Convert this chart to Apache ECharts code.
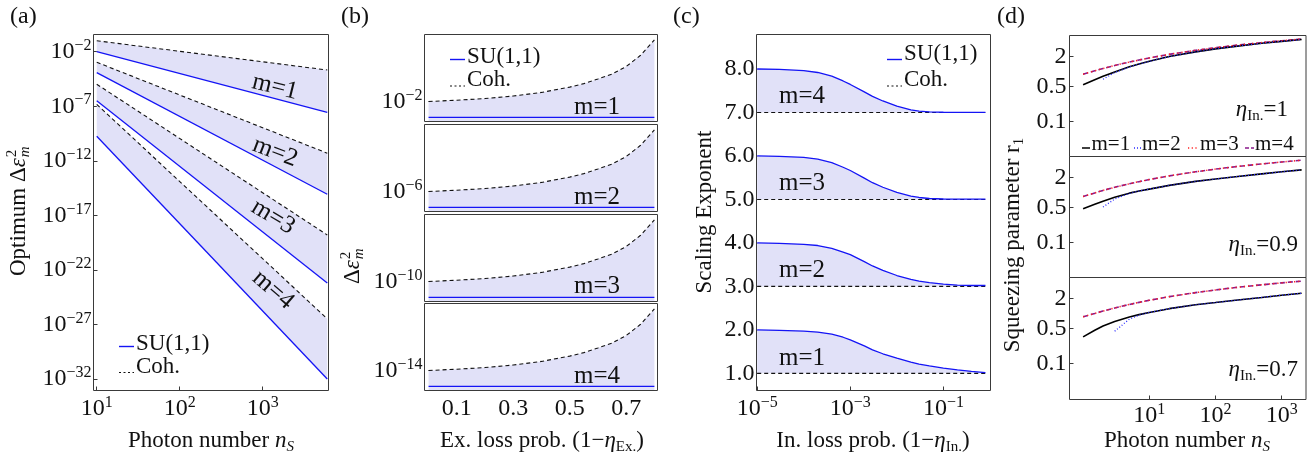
<!DOCTYPE html>
<html><head><meta charset="utf-8">
<script src="https://cdn.jsdelivr.net/npm/echarts@6.0.0/dist/echarts.min.js"></script>
<style>html,body{margin:0;padding:0;background:#fff;}#c{width:1315px;height:460px;}</style>
</head><body><div id="c"></div>
<script>
// ================= DATA =================
// (a) optimum error vs photon number (log-log straight lines, endpoints)
const aPhoton = [10, 6000];
const aCoh1 = [1.0e-1, 2.1e-4];
const aSU1  = [1.0e-2, 2.8e-8];
const aCoh2 = [1.07e-3, 5.0e-12];
const aSU2  = [1.2e-4, 8.7e-16];
const aCoh3 = [1.04e-5, 1.6e-19];
const aSU3  = [3.2e-7, 6.2e-24];
const aCoh4 = [1.5e-7, 3.3e-27];
const aSU4  = [1.8e-10, 1.0e-32];
const aXTicks = [10, 100, 1000];
const aYTicks = [1e-2, 1e-7, 1e-12, 1e-17, 1e-22, 1e-27, 1e-32];

// (b) error vs external loss
const bLoss = [0, 0.1, 0.2, 0.3, 0.4, 0.5, 0.55, 0.6, 0.65, 0.7, 0.75, 0.8];
const bCoh1 = [1.00e-2, 1.035e-2, 1.08e-2, 1.155e-2, 1.27e-2, 1.46e-2, 1.60e-2, 1.81e-2, 2.06e-2, 2.51e-2, 3.35e-2, 5.05e-2];
const bCoh2 = [1.00e-6, 1.035e-6, 1.08e-6, 1.155e-6, 1.27e-6, 1.46e-6, 1.60e-6, 1.81e-6, 2.06e-6, 2.51e-6, 3.35e-6, 5.05e-6];
const bCoh3 = [1.00e-10, 1.035e-10, 1.08e-10, 1.155e-10, 1.27e-10, 1.46e-10, 1.60e-10, 1.81e-10, 2.06e-10, 2.51e-10, 3.35e-10, 5.05e-10];
const bCoh4 = [1.00e-14, 1.035e-14, 1.08e-14, 1.155e-14, 1.27e-14, 1.46e-14, 1.60e-14, 1.81e-14, 2.06e-14, 2.51e-14, 3.35e-14, 5.05e-14];
const bSULoss = [0, 0.8];
const bSU1 = [6.6e-3, 6.6e-3];
const bSU2 = [6.6e-7, 6.6e-7];
const bSU3 = [6.6e-11, 6.6e-11];
const bSU4 = [6.6e-15, 6.6e-15];
const bXTicks = [0.1, 0.3, 0.5, 0.7];
const bYTicks = [1e-2, 1e-6, 1e-10, 1e-14];

// (c) scaling exponent vs internal loss
const cLoss = [1e-5, 3e-5, 1e-4, 2e-4, 4e-4, 7e-4, 1e-3, 2e-3, 3e-3, 5e-3, 1e-2, 2e-2, 3e-2, 5e-2, 0.1, 0.2, 0.4, 0.8];
const cSU1 = [2.0, 1.99, 1.97, 1.95, 1.90, 1.83, 1.77, 1.63, 1.54, 1.45, 1.35, 1.26, 1.21, 1.17, 1.12, 1.08, 1.045, 1.016];
const cSU2 = [4.0, 3.99, 3.968, 3.94, 3.875, 3.79, 3.73, 3.57, 3.47, 3.37, 3.25, 3.16, 3.12, 3.085, 3.05, 3.03, 3.02, 3.02];
const cSU3 = [6.0, 5.99, 5.966, 5.925, 5.845, 5.74, 5.665, 5.49, 5.385, 5.28, 5.16, 5.075, 5.045, 5.022, 5.01, 5.006, 5.005, 5.005];
const cSU4 = [8.0, 7.99, 7.965, 7.92, 7.835, 7.725, 7.645, 7.475, 7.37, 7.265, 7.145, 7.058, 7.03, 7.012, 7.005, 7.004, 7.004, 7.004];
const cCohLoss = [1e-5, 0.8];
const cCoh1 = [1, 1];
const cCoh2 = [3, 3];
const cCoh3 = [5, 5];
const cCoh4 = [7, 7];
const cXTicks = [1e-5, 1e-3, 1e-1];
const cYTicks = [1, 2, 3, 4, 5, 6, 7, 8];

// (d) squeezing parameter vs photon number
const dPhoton = [1, 1.5, 2, 3, 5, 7, 10, 20, 50, 100, 200, 500, 1000, 2000];
const dEta1_m1  = [0.54, 0.68, 0.80, 0.98, 1.24, 1.41, 1.60, 2.00, 2.48, 2.85, 3.20, 3.68, 4.03, 4.38];
const dEta1_m2  = [null, null, 0.70, 0.95, 1.23, 1.41, 1.60, 2.00, 2.48, 2.85, 3.20, 3.68, 4.03, 4.38];
const dEta1_m34 = [0.88, 1.03, 1.15, 1.32, 1.55, 1.70, 1.87, 2.21, 2.66, 3.00, 3.35, 3.80, 4.15, 4.49];
const dEta09_m1  = [0.47, 0.58, 0.67, 0.80, 0.97, 1.07, 1.17, 1.39, 1.67, 1.86, 2.07, 2.36, 2.60, 2.85];
const dEta09_m2  = [null, null, 0.51, 0.74, 0.96, 1.07, 1.17, 1.39, 1.67, 1.86, 2.07, 2.36, 2.60, 2.85];
const dEta09_m34 = [0.83, 0.98, 1.10, 1.27, 1.50, 1.65, 1.82, 2.16, 2.60, 2.95, 3.30, 3.75, 4.10, 4.45];
const dEta07_m1  = [0.34, 0.46, 0.56, 0.69, 0.85, 0.95, 1.05, 1.25, 1.50, 1.66, 1.84, 2.10, 2.33, 2.55];
const dEta07_m2  = [null, null, null, 0.44, 0.77, 0.93, 1.05, 1.25, 1.50, 1.66, 1.84, 2.10, 2.33, 2.55];
const dEta07_m34 = [0.86, 1.00, 1.12, 1.29, 1.52, 1.67, 1.84, 2.18, 2.62, 2.97, 3.32, 3.77, 4.12, 4.47];
const dXTicks = [10, 100, 1000];
const dYTicks = [0.1, 0.5, 2];
const dEtaLabels = ['=1', '=0.9', '=0.7'];

// ================= STYLE / LAYOUT =================
const F = '"Liberation Serif","Times New Roman",serif';
const INK = '#111';
const BLUE = '#1414f5';
const FILL = '#e1e1f8';
const FRAME = '#3a3a3a';
const DASH = {color: INK, width: 1.1, type: [4, 3]};
const SOLID_BLUE = {color: BLUE, width: 1.3};

const A = {left: 93.5, top: 34.5, width: 235, height: 356};
const B_TOPS = [34.5, 124.5, 214.5, 303.5], B_H = 87, B_LEFT = 424.5, B_W = 233;
const C = {left: 756.5, top: 34.5, width: 234, height: 356};
const D_TOPS = [35.5, 156.5, 277.5], D_H = [121, 121, 122], D_LEFT = 1069.5, D_W = 236.5;

const grids = [], xAxes = [], yAxes = [], series = [], graphics = [];

function minus(e){ return e < 0 ? '\u2212' + (-e) : String(e); }
function powFmt(v){ const e = Math.round(Math.log10(v)); return '{b|10}{s|' + minus(e) + '}'; }
const richPow = {
  b: {fontFamily: F, fontSize: 24, lineHeight: 28, color: INK},
  s: {fontFamily: F, fontSize: 16, lineHeight: 14, verticalAlign: 'top', color: INK}
};

function addGrid(r){
  grids.push({left: r.left, top: r.top, width: r.width, height: r.height, show: false, containLabel: false, outerBoundsMode: 'none'});
  graphics.push({type: 'rect', z: 100, silent: true, shape: {x: r.left, y: r.top, width: r.width, height: r.height},
    style: {fill: 'none', stroke: FRAME, lineWidth: 1}});
  return grids.length - 1;
}
function axis(gi, o){
  const ax = {
    type: o.type, gridIndex: gi, min: o.min, max: o.max,
    axisLine: {show: false}, splitLine: {show: false}, minorTick: {show: false}, minorSplitLine: {show: false},
    axisTick: {show: !!o.ticks, inside: true, length: 4, lineStyle: {color: FRAME, width: 1}},
    axisLabel: {show: !!o.labels, margin: o.margin == null ? 3 : o.margin, fontFamily: F, fontSize: 24, color: INK}
  };
  if (o.type === 'log') ax.logBase = 10;
  if (o.ticks) { ax.axisTick.customValues = o.ticks; ax.axisLabel.customValues = o.ticks; }
  if (o.fmt) ax.axisLabel.formatter = o.fmt;
  if (o.rich) ax.axisLabel.rich = o.rich;
  return ax;
}
function band(i, xsU, ysU, xsL, ysL){
  return {type: 'custom', xAxisIndex: i, yAxisIndex: i, z: 1, silent: true,
    data: [[xsU[0], ysU[0]]],
    renderItem: function(p, api){
      const pts = [];
      for (let k = 0; k < xsU.length; k++) pts.push(api.coord([xsU[k], ysU[k]]));
      for (let k = xsL.length - 1; k >= 0; k--) pts.push(api.coord([xsL[k], ysL[k]]));
      return {type: 'polygon', shape: {points: pts}, style: {fill: FILL}};
    }};
}
function line(i, xs, ys, ls, z){
  return {type: 'line', xAxisIndex: i, yAxisIndex: i, data: xs.map((x, k) => [x, ys[k]]),
    showSymbol: false, symbol: 'none', silent: true, z: z || 3, lineStyle: ls, connectNulls: false};
}

// ---- panel (a)
{
  const gi = addGrid(A);
  xAxes.push(axis(gi, {type: 'log', min: Math.pow(10, 0.961), max: Math.pow(10, 3.793), ticks: aXTicks, labels: true, fmt: powFmt, rich: richPow, margin: 4}));
  yAxes.push(axis(gi, {type: 'log', min: Math.pow(10, -33.05), max: Math.pow(10, -0.425), ticks: aYTicks, labels: true, fmt: powFmt, rich: richPow, margin: 2}));
  const cohs = [aCoh1, aCoh2, aCoh3, aCoh4], sus = [aSU1, aSU2, aSU3, aSU4];
  for (let m = 0; m < 4; m++) {
    series.push(band(gi, aPhoton, cohs[m], aPhoton, sus[m]));
    series.push(line(gi, aPhoton, cohs[m], DASH));
    series.push(line(gi, aPhoton, sus[m], SOLID_BLUE));
  }
}
// ---- panel (b)
{
  const cohs = [bCoh1, bCoh2, bCoh3, bCoh4], sus = [bSU1, bSU2, bSU3, bSU4];
  for (let m = 0; m < 4; m++) {
    const gi = addGrid({left: B_LEFT, top: B_TOPS[m], width: B_W, height: B_H});
    const last = m === 3;
    xAxes.push(axis(gi, {type: 'value', min: -0.0144, max: 0.811, ticks: last ? bXTicks : null, labels: last, margin: 6}));
    const e = Math.round(Math.log10(bYTicks[m]));
    const yMin = Math.pow(10, e - 20 / 87.5), yMax = Math.pow(10, e + (B_H - 20) / 87.5);
    yAxes.push(axis(gi, {type: 'log', min: yMin, max: yMax, ticks: [bYTicks[m]], labels: true, fmt: powFmt, rich: richPow, margin: 2}));
    series.push(band(gi, bLoss, cohs[m], bSULoss, [yMin, yMin]));
    series.push(line(gi, bLoss, cohs[m], DASH));
    series.push(line(gi, bSULoss, sus[m], SOLID_BLUE));
  }
}
// ---- panel (c)
{
  const gi = addGrid(C);
  xAxes.push(axis(gi, {type: 'log', min: Math.pow(10, -5.015), max: Math.pow(10, 0.012), ticks: cXTicks, labels: true, fmt: powFmt, rich: richPow, margin: 4}));
  yAxes.push(axis(gi, {type: 'value', min: 0.605, max: 8.794, ticks: cYTicks, labels: true, fmt: v => v.toFixed(1), margin: 2}));
  const sus = [cSU1, cSU2, cSU3, cSU4], cohs = [cCoh1, cCoh2, cCoh3, cCoh4];
  for (let m = 0; m < 4; m++) {
    series.push(band(gi, cLoss, sus[m], cCohLoss, cohs[m]));
    series.push(line(gi, cCohLoss, cohs[m], DASH));
    series.push(line(gi, cLoss, sus[m], SOLID_BLUE));
  }
}
// ---- panel (d)
{
  const sets = [[dEta1_m1, dEta1_m2, dEta1_m34], [dEta09_m1, dEta09_m2, dEta09_m34], [dEta07_m1, dEta07_m2, dEta07_m34]];
  for (let s = 0; s < 3; s++) {
    const gi = addGrid({left: D_LEFT, top: D_TOPS[s], width: D_W, height: D_H[s]});
    const last = s === 2;
    xAxes.push(axis(gi, {type: 'log', min: Math.pow(10, -0.2054), max: Math.pow(10, 3.367), ticks: last ? dXTicks : null, labels: last, fmt: powFmt, rich: richPow, margin: 2}));
    const lmax = Math.log10(2) + 21 / 49.8;
    yAxes.push(axis(gi, {type: 'log', min: Math.pow(10, lmax - D_H[s] / 49.8), max: Math.pow(10, lmax), ticks: dYTicks, labels: true, fmt: v => String(v), margin: 3}));
    const [m1, m2, m34] = sets[s];
    series.push(line(gi, dPhoton, m34, {color: '#8a1a8a', width: 1.6, type: [5, 3]}, 3));
    series.push(line(gi, dPhoton, m34, {color: '#ff2020', width: 1.5, type: [1.2, 3]}, 4));
    series.push(line(gi, dPhoton, m1, {color: '#000', width: 1.6}, 3));
    series.push(line(gi, dPhoton, m2, {color: '#2a2aff', width: 1.3, type: [1, 2]}, 4));
  }
}

// ================= TEXT / LEGENDS =================
const GR = {
  i: {fontFamily: F, fontStyle: 'italic', fontSize: 23, lineHeight: 28, fill: INK},
  sub: {fontFamily: F, fontSize: 15, lineHeight: 15, verticalAlign: 'bottom', fill: INK},
  isub: {fontFamily: F, fontStyle: 'italic', fontSize: 15, lineHeight: 15, verticalAlign: 'bottom', fill: INK}
};
function txt(x, y, text, o){
  o = o || {};
  const el = {type: 'text', x: x, y: y, rotation: o.rot || 0, z: 110, silent: true,
    style: {text: text, fontFamily: F, fontSize: o.fs || 23, fontStyle: o.it ? 'italic' : 'normal', fill: INK,
      align: o.align || 'left', verticalAlign: 'middle', lineHeight: o.lh || 28}};
  if (o.rich) el.style.rich = o.rich;
  return el;
}
function seg(x1, y1, x2, y2, color, dash, w){
  return {type: 'line', z: 110, silent: true, shape: {x1: x1, y1: y1, x2: x2, y2: y2},
    style: {stroke: color, lineWidth: w || 1.3, lineDash: dash || null}};
}
const mctx = document.createElement('canvas').getContext('2d');
function tw(t, font){ mctx.font = font; return mctx.measureText(t).width; }

// panel letters
graphics.push(txt(10, 17, '(a)', {fs: 24}), txt(341, 17, '(b)', {fs: 24}), txt(673, 17, '(c)', {fs: 24}), txt(997, 17, '(d)', {fs: 24}));

// legends a, b, c
function suCohLegend(x, ySU, yCoh, yLineSU, yLineCoh){
  graphics.push(seg(x, yLineSU, x + 15, yLineSU, BLUE, null, 1.4));
  graphics.push(seg(x, yLineCoh, x + 15, yLineCoh, INK, [2, 2.5], 1.2));
  graphics.push(txt(x + 17, ySU, 'SU(1,1)'));
  graphics.push(txt(x + 17, yCoh, 'Coh.'));
}
suCohLegend(119, 344, 367, 346.5, 372.5);
suCohLegend(450, 57, 80, 59.5, 86);
suCohLegend(887, 54, 80, 59.5, 86);

// m labels
const aLab = [[275, 87, 14], [275, 152, 21], [273, 217, 31], [273, 290, 41]];
aLab.forEach((p, k) => graphics.push(txt(p[0], p[1], 'm=' + (k + 1), {fs: 25, align: 'center', rot: -p[2] * Math.PI / 180})));
[107.5, 197.5, 286.5, 376].forEach((y, k) => graphics.push(txt(574, y, 'm=' + (k + 1), {fs: 25})));
[96.5, 183.5, 270, 358.5].forEach((y, k) => graphics.push(txt(779, y, 'm=' + (4 - k), {fs: 25})));

// (d) legend
graphics.push(seg(1082, 148, 1090, 148, '#000', null, 1.5), txt(1091.5, 144, 'm=1', {fs: 21}));
graphics.push(seg(1134, 148, 1141, 148, '#2a2aff', [1, 2], 1.3), txt(1142, 144, 'm=2', {fs: 21}));
graphics.push(seg(1188, 148, 1198, 148, '#ff2020', [1.2, 2.5], 1.5), txt(1200, 144, 'm=3', {fs: 21}));
graphics.push(seg(1245, 148, 1254, 148, '#8a1a8a', [4, 2], 1.5), txt(1255, 144, 'm=4', {fs: 21}));
// (d) eta labels
[[1288, 110], [1298, 245], [1298, 370]].forEach((p, k) =>
  graphics.push(txt(p[0], p[1], '{i|\u03b7}{sub|In.}' + dEtaLabels[k], {align: 'right', rich: GR})));

// x titles
graphics.push(txt(211, 441, 'Photon number {i|n}{isub|S}', {align: 'center', rich: GR}));
graphics.push(txt(542, 441, 'Ex. loss prob. (1\u2212{i|\u03b7}{sub|Ex.})', {align: 'center', rich: GR}));
graphics.push(txt(873, 441, 'In. loss prob. (1\u2212{i|\u03b7}{sub|In.})', {align: 'center', rich: GR}));
graphics.push(txt(1187, 441, 'Photon number {i|n}{isub|S}', {align: 'center', rich: GR}));

// y titles
function deltaTitle(x, y, prefix){
  const f = '23px "Liberation Serif"';
  const w1 = tw(prefix + '\u0394', f), w2 = tw('\u03b5', 'italic ' + f);
  const mk = (lx, ly, t, fs, it) => ({type: 'text', x: lx, y: ly, silent: true,
    style: {text: t, fontFamily: F, fontSize: fs, fontStyle: it ? 'italic' : 'normal', fill: INK, align: 'left', verticalAlign: 'middle'}});
  graphics.push({type: 'group', x: x, y: y, rotation: Math.PI / 2, z: 110, silent: true, children: [
    mk(0, 0, prefix + '\u0394', 23, false),
    mk(w1, 0, '\u03b5', 23, true),
    mk(w1 + w2 + 1, -7, '2', 15, false),
    mk(w1 + w2 + 1, 6, 'm', 15, true)
  ]});
}
deltaTitle(19, 276, 'Optimum ');
deltaTitle(353, 284, '');
graphics.push(txt(705, 212, 'Scaling Exponent', {align: 'center', rot: Math.PI / 2}));
graphics.push(txt(1013, 245, 'Squeezing parameter r{sub|1}', {align: 'center', rot: Math.PI / 2, rich: GR}));

// ================= CHART =================
const chart = echarts.init(document.getElementById('c'), null, {renderer: 'canvas', width: 1315, height: 460});
chart.setOption({
  animation: false,
  backgroundColor: '#fff',
  textStyle: {fontFamily: F},
  grid: grids, xAxis: xAxes, yAxis: yAxes, series: series, graphic: graphics
});
</script></body></html>
